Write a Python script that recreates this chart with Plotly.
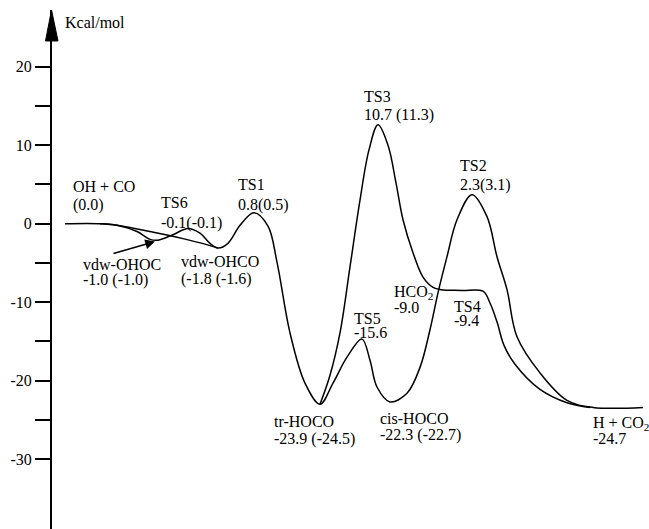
import plotly.graph_objects as go

# ---------------- data ----------------
# reaction coordinate (arbitrary units) and drawn energy (kcal/mol)
# main path: OH+CO -> vdw-OHOC -> TS6 -> vdw-OHCO -> TS1 -> tr-HOCO -> TS5 -> cis-HOCO -> TS2 -> H+CO2
main_x = [65, 100, 117, 137, 150, 158, 173, 188, 200, 210, 218, 228, 240, 254, 268, 277, 290, 305,
          320, 333, 347, 362, 370, 377, 390, 407, 420, 430, 438, 447, 457, 472, 487, 497, 507, 517,
          540, 567, 593, 643]
main_e = [0.0, 0.0, -0.2, -1.0, -2.0, -2.1, -1.4, -0.6, -1.2, -2.5, -3.1, -2.5, -0.2, 1.4, -0.3, -4.9,
          -13.9, -20.3, -23.0, -20.3, -17.0, -14.7, -17.4, -20.8, -22.7, -21.6, -18.3, -13.5, -8.8,
          -4.2, 0.5, 3.7, 0.9, -4.2, -8.4, -14.4, -19.0, -22.5, -23.4, -23.4]

# direct path: OH+CO -> vdw-OHCO
direct_x = [100, 117, 150, 183, 205, 218]
direct_e = [0.0, -0.2, -1.0, -1.9, -2.6, -3.1]

# branch: tr-HOCO -> TS3 -> HCO2 -> TS4 -> H+CO2
branch_x = [320, 330, 340, 350, 360, 369, 378, 388, 396, 403, 413, 423, 433, 441, 462, 483, 490,
            497, 504, 515, 540, 567, 590]
branch_e = [-23.0, -19.3, -13.9, -5.5, 3.0, 9.4, 12.6, 10.0, 5.2, 0.5, -3.7, -6.8, -8.1, -8.4,
            -8.5, -8.6, -10.1, -12.5, -15.5, -17.9, -21.1, -22.8, -23.4]

# axis ticks
tick_vals = [-30, -25, -20, -15, -10, -5, 0, 5, 10, 15, 20]
tick_text = ["-30", "", "-20", "", "-10", "", "0", "", "10", "", "20"]

# species labels: name, value text
label_names = ["OH + CO", "TS6", "vdw-OHOC", "vdw-OHCO", "TS1", "TS3", "TS2", "TS5",
               "HCO<sub>2</sub>", "TS4", "tr-HOCO", "cis-HOCO", "H + CO<sub>2</sub>"]
label_values = ["(0.0)", "-0.1(-0.1)", "-1.0 (-1.0)", "(-1.8 (-1.6)", "0.8(0.5)", "10.7 (11.3)",
                "2.3(3.1)", "-15.6", "-9.0", "-9.4", "-23.9 (-24.5)", "-22.3 (-22.7)", "-24.7"]

# ---------------- layout helpers ----------------
W, H = 649, 529
AX_X = 52            # pixel of the energy axis
TOP = 10             # pixel of arrow tip
Y0 = 223.7           # pixel of 0 kcal/mol
PPU = 7.852          # pixels per kcal/mol


def e_of(py):
    return (Y0 - py) / PPU


FONT = "'Liberation Serif', 'Times New Roman', Times, serif"

# label placement (left x, centre y of name line, centre y of value line) in pixels
label_pos = [(72, 186, 205), (160, 202, 223), (82, 264, 280), (180, 261, 279), (237, 184, 205),
             (363, 96, 115), (459, 165, 185), (353, 318, 332), (393, 292, 307), (453, 306, 320),
             (273, 421, 439), (379, 418, 435), (592, 423, 438)]

fig = go.Figure()
line_style = dict(color="black", width=1.5, shape="spline", smoothing=1)
for xs, es in [(main_x, main_e), (direct_x, direct_e), (branch_x, branch_e)]:
    fig.add_trace(go.Scatter(x=xs, y=es, mode="lines", line=line_style,
                             hoverinfo="skip", showlegend=False))

ann = []
for name, val, (lx, y1, y2) in zip(label_names, label_values, label_pos):
    for txt, yy in [(name, y1), (val, y2)]:
        ann.append(dict(x=lx, y=e_of(yy), xref="x", yref="y", text=txt, showarrow=False,
                        xanchor="left", yanchor="middle", borderpad=0,
                        font=dict(family=FONT, size=16, color="black")))

# unit label
ann.append(dict(x=64, y=e_of(22), xref="x", yref="y", text="Kcal/mol", showarrow=False,
                xanchor="left", yanchor="middle", borderpad=0,
                font=dict(family=FONT, size=16, color="black")))

# arrow pointing at vdw-OHOC
ann.append(dict(x=155, y=e_of(241.5), ax=112, ay=e_of(254), xref="x", yref="y",
                axref="x", ayref="y", text="", showarrow=True, arrowhead=2,
                arrowsize=1.3, arrowwidth=1.5, arrowcolor="black", standoff=0))

plot_w = W - AX_X
plot_h = H - TOP


def px_x(px):
    return (px - AX_X) / plot_w


def px_y(py):
    return (H - py) / plot_h


arrow_path = "M {:.4f},{:.4f} L {:.4f},{:.4f} L {:.4f},{:.4f} Z".format(
    px_x(45.5), px_y(41), px_x(51.5), px_y(10), px_x(58), px_y(41))

fig.update_layout(
    width=W, height=H,
    margin=dict(l=AX_X, r=0, t=TOP, b=0, autoexpand=False),
    paper_bgcolor="white", plot_bgcolor="white",
    showlegend=False,
    font=dict(family=FONT, size=16, color="black"),
    xaxis=dict(range=[AX_X, W], visible=False, fixedrange=True),
    yaxis=dict(range=[e_of(H), e_of(TOP)], showgrid=False, zeroline=False,
               showline=True, linecolor="black", linewidth=2,
               ticks="outside", ticklen=15, tickwidth=2, tickcolor="black",
               tickvals=tick_vals, ticktext=tick_text,
               tickfont=dict(family=FONT, size=16, color="black"),
               automargin=False, fixedrange=True),
    annotations=ann,
    shapes=[dict(type="path", xref="paper", yref="paper", path=arrow_path,
                 fillcolor="black", line=dict(color="black", width=1))],
)

fig.write_html("out.html", config={"displayModeBar": False},
               post_script="document.body.style.margin='0px';")
